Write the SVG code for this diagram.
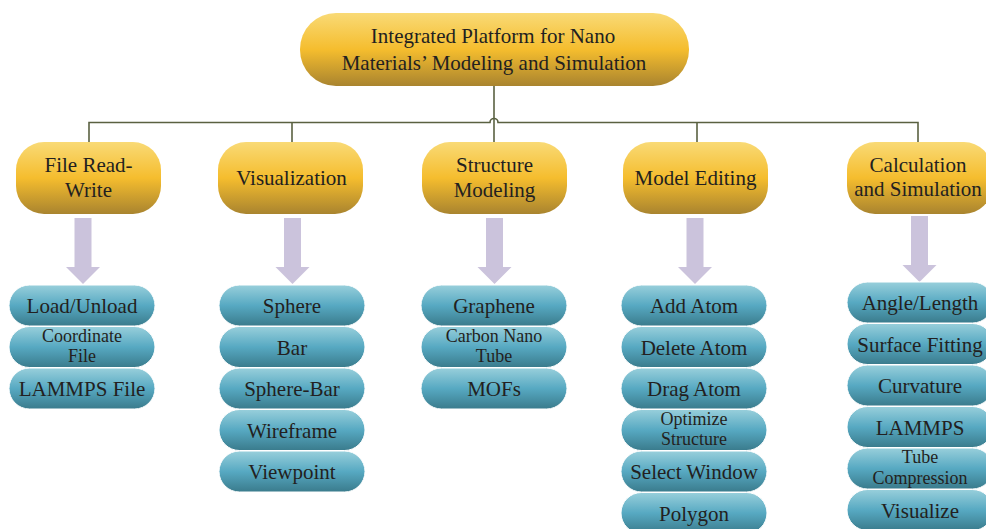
<svg xmlns="http://www.w3.org/2000/svg" width="986" height="529" viewBox="0 0 986 529">
<defs>
<linearGradient id="gy" x1="0" y1="0" x2="0" y2="1">
<stop offset="0" stop-color="#f9da76"/>
<stop offset="0.5" stop-color="#f5bd2e"/>
<stop offset="1" stop-color="#a9842f"/>
</linearGradient>
<linearGradient id="gt" x1="0" y1="0" x2="0" y2="1">
<stop offset="0" stop-color="#98cfdb"/>
<stop offset="0.5" stop-color="#57a9c2"/>
<stop offset="1" stop-color="#3a7b8c"/>
</linearGradient>
<polygon id="arr" points="-8.5,0 8.5,0 8.5,49 17,49 0,66 -17,49 -8.5,49"/>
<rect id="t3" x="-73" y="0" width="146" height="41" rx="20.5"/>
</defs>
<style>
text{font-family:"Liberation Serif","Times New Roman",serif;fill:#231f20;text-anchor:middle;font-size:21px}
text.s{font-size:18px}
.y{fill:url(#gy)}
.t use,.t rect{fill:url(#gt);stroke:#ffffff;stroke-width:1}
.ln{fill:none;stroke:#5a6141;stroke-width:1.6}
.ar{fill:#cbc3dc}
</style>

<g id="connectors">
<path class="ln" d="M494,86V142"/>
<path class="ln" d="M89,142V122.5H490a4,4 0 0 1 8,0H918V142"/>
<path class="ln" d="M292,122.5V142M697,122.5V142"/>
<use href="#arr" class="ar" x="83" y="218"/>
<use href="#arr" class="ar" x="292.5" y="218"/>
<use href="#arr" class="ar" x="494.5" y="218"/>
<use href="#arr" class="ar" x="695" y="218"/>
<use href="#arr" class="ar" x="919.5" y="216"/>
</g>

<g id="root">
<rect class="y" x="300" y="13" width="389" height="73" rx="36"/>
<text x="493" y="43">Integrated Platform for Nano</text>
<text x="494" y="70">Materials’ Modeling and Simulation</text>
</g>

<g id="file-rw">
<rect class="y" x="16" y="142" width="145" height="72" rx="28"/>
<text x="88.5" y="172">File Read-</text>
<text x="88.5" y="197">Write</text>
</g>
<g id="visualization">
<rect class="y" x="218" y="142" width="145" height="72" rx="28"/>
<text x="291.5" y="185">Visualization</text>
</g>
<g id="structure-modeling">
<rect class="y" x="422" y="142" width="145" height="72" rx="28"/>
<text x="494.5" y="172">Structure</text>
<text x="494.5" y="197">Modeling</text>
</g>
<g id="model-editing">
<rect class="y" x="623" y="142" width="145" height="72" rx="28"/>
<text x="695.5" y="185">Model Editing</text>
</g>
<g id="calc-sim">
<rect class="y" x="847" y="142" width="145" height="72" rx="28"/>
<text x="918" y="172">Calculation</text>
<text x="918" y="196">and Simulation</text>
</g>

<g class="t">
<g id="load-unload"><use href="#t3" x="82" y="285"/><text x="82" y="313">Load/Unload</text></g>
<g id="coordinate-file"><use href="#t3" x="82" y="326.5"/><text class="s" x="82" y="341.5">Coordinate</text><text class="s" x="82" y="362">File</text></g>
<g id="lammps-file"><use href="#t3" x="82" y="368"/><text x="82" y="396">LAMMPS File</text></g>

<g id="sphere"><use href="#t3" x="292" y="285"/><text x="292" y="313">Sphere</text></g>
<g id="bar"><use href="#t3" x="292" y="326.5"/><text x="292" y="354.5">Bar</text></g>
<g id="sphere-bar"><use href="#t3" x="292" y="368"/><text x="292" y="396">Sphere-Bar</text></g>
<g id="wireframe"><use href="#t3" x="292" y="409.5"/><text x="292" y="437.5">Wireframe</text></g>
<g id="viewpoint"><use href="#t3" x="292" y="451"/><text x="292" y="479">Viewpoint</text></g>

<g id="graphene"><use href="#t3" x="494" y="285"/><text x="494" y="313">Graphene</text></g>
<g id="cnt"><use href="#t3" x="494" y="326.5"/><text class="s" x="494" y="341.5">Carbon Nano</text><text class="s" x="494" y="362">Tube</text></g>
<g id="mofs"><use href="#t3" x="494" y="368"/><text x="494" y="396">MOFs</text></g>

<g id="add-atom"><use href="#t3" x="694" y="285"/><text x="694" y="313">Add Atom</text></g>
<g id="delete-atom"><use href="#t3" x="694" y="326.5"/><text x="694" y="354.5">Delete Atom</text></g>
<g id="drag-atom"><use href="#t3" x="694" y="368"/><text x="694" y="396">Drag Atom</text></g>
<g id="optimize-structure"><use href="#t3" x="694" y="409.5"/><text class="s" x="694" y="424.5">Optimize</text><text class="s" x="694" y="445">Structure</text></g>
<g id="select-window"><use href="#t3" x="694" y="451"/><text x="694" y="479">Select Window</text></g>
<g id="polygon"><use href="#t3" x="694" y="492.5"/><text x="694" y="520.5">Polygon</text></g>

<g id="angle-length"><use href="#t3" x="920" y="282"/><text x="920" y="310">Angle/Length</text></g>
<g id="surface-fitting"><use href="#t3" x="920" y="323.5"/><text x="920" y="351.5">Surface Fitting</text></g>
<g id="curvature"><use href="#t3" x="920" y="365"/><text x="920" y="393">Curvature</text></g>
<g id="lammps"><use href="#t3" x="920" y="406.5"/><text x="920" y="434.5">LAMMPS</text></g>
<g id="tube-compression"><use href="#t3" x="920" y="448"/><text class="s" x="920" y="463">Tube</text><text class="s" x="920" y="483.5">Compression</text></g>
<g id="visualize"><use href="#t3" x="920" y="489.5"/><text x="920" y="517.5">Visualize</text></g>
</g>
</svg>
